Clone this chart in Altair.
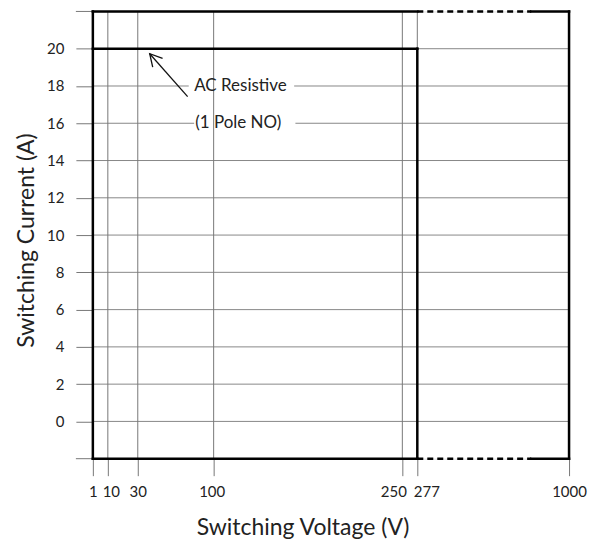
import altair as alt
import pandas as pd

FONT = "Lato"

# axis values
x_ticks = [1, 10, 30, 100, 250, 277, 1000]
y_ticks = list(range(0, 21, 2))
y_extra_ticks = [-2, 22]
y_grid = list(range(0, 21, 2))
x_grid = [10, 30, 100, 250, 277]

# thick outline segments (x, x2, y, y2)
solid_x = [1, 1000, 1, 820, 1, 820, 1, 277]
solid_x2 = [1, 1000, 277, 1000, 277, 1000, 277, 277]
solid_y = [-2, -2, 22, 22, -2, -2, 20, -2]
solid_y2 = [22, 22, 22, 22, -2, -2, 20, 20]

dash_x = [277, 277]
dash_x2 = [820, 820]
dash_y = [22, -2]
dash_y2 = [22, -2]

# annotation
ann_text = ["AC Resistive", "(1 Pole NO)"]
ann_x = [82, 83]
ann_y = [18, 16]
gap_x = [77, 82]
gap_x2 = [164, 165]
arrow_tail = (76, 17.43)
arrow_tip = (41, 19.73)

xscale = alt.Scale(domain=x_ticks, range=[0, 15, 45, 121, 310, 325, 477],
                   type="linear", nice=False, zero=False)
yscale = alt.Scale(domain=[-2, 22], nice=False, zero=False)

W, H = 477, 448

xaxis = alt.Axis(values=x_ticks, title="Switching Voltage (V)", grid=False, domain=False,
                 tickSize=17, tickColor="#777", tickWidth=1, labelFontSize=15,
                 labelColor="#222", labelPadding=9, labelFont=FONT, titleFont=FONT,
                 titleFontSize=23, titleFontWeight="normal", titleColor="#222",
                 titlePadding=17, titleX=210, labelFlush=False, labelOverlap=False, format="d",
                 labelOffset={"condition": [{"test": "datum.value == 250", "value": -9},
                                            {"test": "datum.value == 277", "value": 9},
                                            {"test": "datum.value == 10", "value": 3},
                                            {"test": "datum.value == 100", "value": -2}],
                              "value": 0})
yaxis = alt.Axis(values=y_ticks, title="Switching Current (A)", grid=False, domain=False,
                 tickSize=17, tickColor="#777", tickWidth=1, labelFontSize=15,
                 labelColor="#222", labelPadding=12, labelFont=FONT, titleFont=FONT,
                 titleFontSize=23, titleFontWeight="normal", titleColor="#222",
                 titlePadding=8, titleY=229, labelOverlap=False, labelBound=False,
                 labelSeparation=0, format="d")

X = lambda f: alt.X(f, scale=xscale, title="Switching Voltage (V)")
Y = lambda f: alt.Y(f, scale=yscale, title="Switching Current (A)")

# base layer carrying axes
axis_df = pd.DataFrame({"x": x_ticks, "y": [0] * len(x_ticks)})
base = alt.Chart(axis_df).mark_point(opacity=0).encode(
    x=alt.X("x:Q", scale=xscale, axis=xaxis),
    y=alt.Y("y:Q", scale=yscale, axis=yaxis),
)

# outer tick stubs at the frame edges (-2 and 22) on the y axis
stub_df = pd.DataFrame({"y": y_extra_ticks})
stubs = alt.Chart(stub_df).mark_rule(color="#777", strokeWidth=1).encode(
    x=alt.value(-17), x2=alt.value(0), y=Y("y:Q"),
)

hgrid_df = pd.DataFrame({"y": y_grid, "x": [1] * len(y_grid), "x2": [1000] * len(y_grid)})
hgrid = alt.Chart(hgrid_df).mark_rule(color="#888", strokeWidth=1).encode(
    x=X("x:Q"), x2="x2:Q", y=Y("y:Q"),
)

gap_df = pd.DataFrame({"x": gap_x, "x2": gap_x2, "y": ann_y})
gaps = alt.Chart(gap_df).mark_rule(color="white", strokeWidth=6).encode(
    x=X("x:Q"), x2="x2:Q", y=Y("y:Q"),
)

vgrid_df = pd.DataFrame({"x": x_grid, "y": [-2] * len(x_grid), "y2": [22] * len(x_grid)})
vgrid = alt.Chart(vgrid_df).mark_rule(color="#777", strokeWidth=1).encode(
    x=X("x:Q"), y=Y("y:Q"), y2="y2:Q",
)

solid_df = pd.DataFrame({"x": solid_x, "x2": solid_x2, "y": solid_y, "y2": solid_y2})
solid = alt.Chart(solid_df).mark_rule(color="black", strokeWidth=2.5, strokeCap="square").encode(
    x=X("x:Q"), x2="x2:Q", y=Y("y:Q"), y2="y2:Q",
)

dash_df = pd.DataFrame({"x": dash_x, "x2": dash_x2, "y": dash_y, "y2": dash_y2})
dashed = alt.Chart(dash_df).mark_rule(color="black", strokeWidth=2.5, strokeDash=[6, 4]).encode(
    x=X("x:Q"), x2="x2:Q", y=Y("y:Q"), y2="y2:Q",
)

arrow_df = pd.DataFrame({"x": [arrow_tail[0]], "y": [arrow_tail[1]],
                         "x2": [arrow_tip[0]], "y2": [arrow_tip[1]]})
arrow_line = alt.Chart(arrow_df).mark_rule(color="#111", strokeWidth=1.3).encode(
    x=X("x:Q"), x2="x2:Q", y=Y("y:Q"), y2="y2:Q",
)
head_df = pd.DataFrame({"x": [arrow_tip[0]], "y": [arrow_tip[1]]})
arrow_head = alt.Chart(head_df).mark_point(
    shape="M-0.55,1L0,0L0.55,1", filled=False, stroke="#111", strokeWidth=1.3,
    size=576, angle=318.5, opacity=1,
).encode(x=X("x:Q"), y=Y("y:Q"))

text_df = pd.DataFrame({"x": ann_x, "y": ann_y, "t": ann_text})
texts = alt.Chart(text_df).mark_text(align="left", baseline="middle", font=FONT,
                                     fontSize=17, color="#222").encode(
    x=X("x:Q"), y=Y("y:Q"), text="t:N",
)

chart = alt.layer(base, stubs, hgrid, gaps, vgrid, solid, dashed, arrow_line, arrow_head, texts).properties(
    width=W, height=H,
    autosize=alt.AutoSizeParams(type="none"),
    padding={"left": 85, "top": 3, "right": 30, "bottom": 85},
).configure_view(stroke=None).configure_axis(labelOverlap=False).configure(background="white")

chart.save("out.html", embed_options={"renderer": "svg", "actions": False})
